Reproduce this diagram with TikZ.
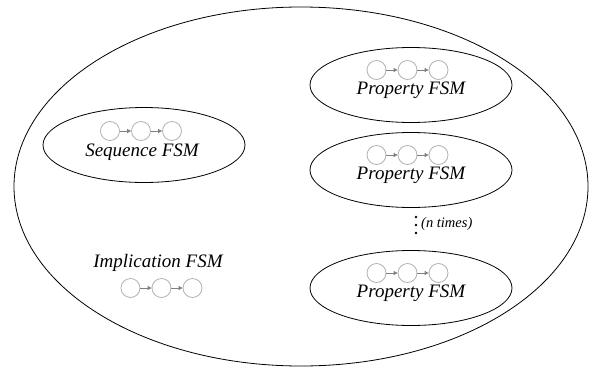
\documentclass[tikz,border=0pt]{standalone}
\usepackage{fontspec}
\setmainfont{Liberation Serif}
\usetikzlibrary{shapes.geometric, arrows.meta}

\tikzset{
	outer/.style={line width=0.8pt},
	fsm/.style={draw, ellipse, line width=0.8pt, inner sep=0pt, minimum width=202pt, minimum height=75pt},
	state/.style={draw=gray!60, circle, line width=0.8pt, inner sep=0pt, minimum size=19pt},
	trans/.style={-{Triangle[length=4pt, width=4pt]}, gray, line width=0.8pt},
	fsmlabel/.style={font=\itshape\fontsize{19}{21}\selectfont, inner sep=0pt},
	note/.style={font=\itshape\fontsize{14.5}{16}\selectfont, inner sep=0pt}
}

\begin{document}
\begin{tikzpicture}[x=1pt, y=-1pt]
	\useasboundingbox (0, 0) rectangle (589, 367);
	\draw[outer] (301, 186.5) ellipse (287pt and 179.5pt);

	\node[fsm] (seq) at (144, 145) {};
	\node[fsmlabel] (seqname) at (142, 152) {Sequence FSM};
	\node[fsm] (prop1) at (411, 85) {};
	\node[fsmlabel] (prop1name) at (411, 90) {Property FSM};
	\node[fsm] (prop2) at (411, 170) {};
	\node[fsmlabel] (prop2name) at (411, 175) {Property FSM};
	\node[fsm] (prop3) at (411, 288) {};
	\node[fsmlabel] (prop3name) at (411, 293) {Property FSM};
	\node[fsmlabel] (implname) at (158, 263) {Implication FSM};

	% three states in a row for every FSM
	\foreach \m/\x/\y in {seq/141/131, prop1/407.5/70, prop2/407.5/155, prop3/407.5/273, impl/161.5/288} {
		\node[state] (\m-1) at (\x-31, \y) {};
		\node[state] (\m-2) at (\x, \y) {};
		\node[state] (\m-3) at (\x+31, \y) {};
		\draw[trans] (\m-1) -- (\m-2);
		\draw[trans] (\m-2) -- (\m-3);
	}

	\foreach \y in {217, 225, 233}
		\fill (416, \y) circle (1.4pt);
	\node[note, anchor=west] (times) at (421, 224) {(n times)};
\end{tikzpicture}
\end{document}
